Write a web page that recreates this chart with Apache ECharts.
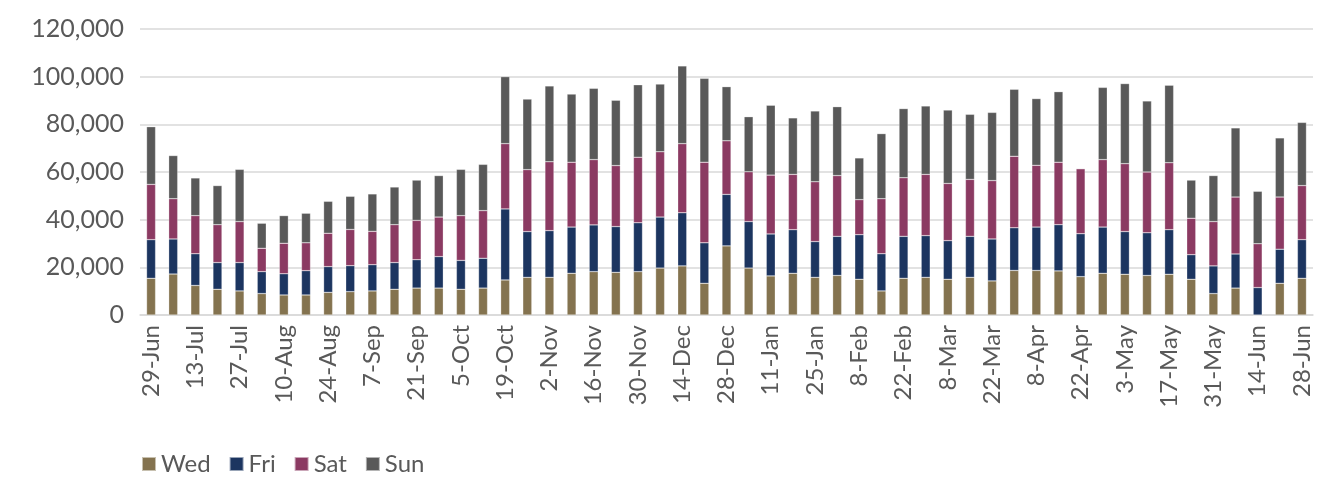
<!DOCTYPE html>
<html>
<head>
<meta charset="utf-8">
<script src="https://cdn.jsdelivr.net/npm/echarts@6/dist/echarts.min.js"></script>
<style>
html,body{margin:0;padding:0;background:#fff;}
#chart{width:1338px;height:477px;}
</style>
</head>
<body>
<div id="chart"></div>
<script>
var categories = ["29-Jun","6-Jul","13-Jul","20-Jul","27-Jul","3-Aug","10-Aug","17-Aug","24-Aug","31-Aug","7-Sep","14-Sep","21-Sep","28-Sep","5-Oct","12-Oct","19-Oct","26-Oct","2-Nov","9-Nov","16-Nov","23-Nov","30-Nov","7-Dec","14-Dec","21-Dec","28-Dec","4-Jan","11-Jan","18-Jan","25-Jan","1-Feb","8-Feb","15-Feb","22-Feb","1-Mar","8-Mar","15-Mar","22-Mar","29-Mar","8-Apr","15-Apr","22-Apr","26-Apr","3-May","10-May","17-May","24-May","31-May","7-Jun","14-Jun","21-Jun","28-Jun"];

var wed = [15400,17200,12400,10800,10100,9000,8400,8400,9500,9800,10100,10800,11300,11300,10800,11300,14700,15800,15800,17500,18200,17900,18200,19700,20600,13300,29000,19700,16400,17500,15800,16600,15000,10100,15400,15800,15000,15800,14300,18700,18700,18500,16100,17500,17100,16600,17100,15000,9000,11300,0,13300,15400];
var fri = [16200,14700,13300,11200,11900,9200,8900,10200,10800,10900,11000,11200,11900,13200,12100,12500,29800,19200,19600,19400,19600,19200,20500,21400,22300,17000,21600,19500,17600,18300,15000,16400,18700,15600,17600,17500,16200,17200,17600,17900,18200,19400,18000,19400,17900,17900,18700,10300,11600,14300,11500,14300,16200];
var sat = [23200,16900,16000,15900,17200,9800,12800,11700,14000,15200,14000,15900,16500,16600,18800,20000,27400,26000,28900,27200,27400,25600,27500,27400,29000,33800,22500,20900,24700,23200,25100,25500,14700,23100,24600,25700,24000,23900,24500,30000,25900,26200,27300,28300,28500,25500,28100,15300,18600,23900,18400,21900,22700];
var sun = [24200,18100,15800,16400,21900,10500,11600,12400,13400,13900,15700,15800,16900,17400,19400,19400,28100,29600,31800,28600,29900,27400,30400,28400,32600,35200,22700,23100,29300,23700,29700,28900,17500,27300,29000,28700,30800,27300,28600,28100,28000,29600,0,30300,33600,29800,32500,16000,19300,29000,22000,24800,26500];

var seriesNames = ["Wed","Fri","Sat","Sun"];
var seriesColors = ["#84734f","#1c3560","#8b3a62","#595959"];
var seriesData = [wed, fri, sat, sun];

var chart = echarts.init(document.getElementById('chart'), null, {renderer:'canvas'});
var fontFam = 'Lato, "Noto Sans", sans-serif';

var series = seriesNames.map(function(n,i){
  return {
    name: n,
    type: 'bar',
    stack: 'total',
    barWidth: 9,
    data: seriesData[i],
    itemStyle: {color: seriesColors[i], borderColor: 'rgba(255,255,255,0.55)', borderWidth: 0.5},
    emphasis: {disabled: true}
  };
});

chart.setOption({
  animation: false,
  backgroundColor: '#ffffff',
  grid: {left: 140, right: 25, top: 29, height: 286, containLabel: false},
  legend: {
    data: seriesNames,
    left: 136,
    top: 447,
    icon: 'rect',
    itemWidth: 14,
    itemHeight: 14,
    itemGap: 18,
    textStyle: {fontFamily: fontFam, fontSize: 24, color: '#595959'}
  },
  xAxis: {
    type: 'category',
    data: categories,
    axisLine: {lineStyle: {color: '#d9d9d9', width: 1.5}},
    axisTick: {show: false},
    axisLabel: {
      interval: 1,
      rotate: 90,
      fontFamily: fontFam,
      fontSize: 24,
      color: '#595959',
      margin: 10
    }
  },
  yAxis: {
    type: 'value',
    min: 0,
    max: 120000,
    interval: 20000,
    axisLine: {show: false},
    axisTick: {show: false},
    splitLine: {lineStyle: {color: '#d9d9d9', width: 1.5}},
    axisLabel: {
      fontFamily: fontFam,
      fontSize: 25,
      color: '#595959',
      margin: 16,
      formatter: function(v){ return v.toLocaleString('en-US'); }
    }
  },
  series: series
});
</script>
</body>
</html>
